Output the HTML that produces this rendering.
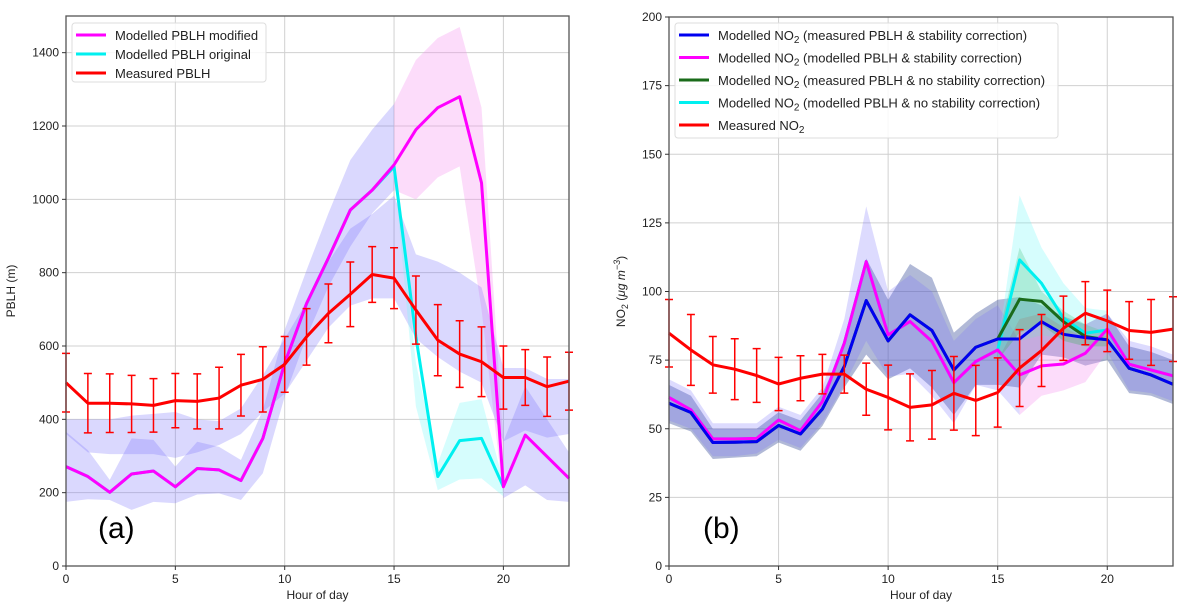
<!DOCTYPE html>
<html><head><meta charset="utf-8"><style>
body{margin:0;background:#fff;}
svg{display:block;font-family:"Liberation Sans",sans-serif;}
</style></head><body>
<svg id="fig" width="1183" height="612" viewBox="0 0 1183 612"></svg>
<script>
// ---------- Panel (a) data ----------
const hours = [0,1,2,3,4,5,6,7,8,9,10,11,12,13,14,15,16,17,18,19,20,21,22,23];
const pblhTicks = [0,200,400,600,800,1000,1200,1400];
const hourTicks = [0,5,10,15,20];
const measPBLH = [500,444,444,442,438,451,449,458,493,509,550,625,689,741,795,785,698,616,578,557,514,514,489,504];
const measPBLHErr = [80,81,80,78,73,74,75,84,84,89,76,77,80,88,76,83,93,97,91,95,86,76,81,79];
const modPBLH = [271,244,201,251,259,216,266,262,233,348,553,716,840,971,1025,1094,1190,1250,1280,1045,216,357,298,239];
const origPBLH = [271,244,201,251,259,216,266,262,233,348,553,716,840,971,1025,1089,625,244,342,348,216,357,298,239];
const modUpper = [366,316,235,348,344,271,339,325,289,425,644,807,962,1107,1190,1260,1380,1440,1470,1250,340,490,400,310];
const modLower = [175,182,180,153,175,171,195,198,180,253,462,625,762,871,962,1025,1000,1060,1090,700,185,220,180,175];
const bandBUpper = [400,400,400,410,415,420,400,395,430,520,620,720,830,920,960,1010,850,830,800,760,540,540,510,510];
const bandBLower = [360,310,305,305,305,295,310,330,360,420,470,560,650,710,730,730,620,570,530,500,340,370,350,360];
const origUpper = [1090,553,280,445,455,230];
const origLower = [1080,435,207,236,239,190];
// ---------- Panel (b) data ----------
const no2Ticks = [0,25,50,75,100,125,150,175,200];
const measNO2 = [84.8,78.7,73.3,71.7,69.4,66.3,68.4,69.9,69.9,64.4,61.4,57.8,58.7,62.9,60.3,63.2,72.1,78.5,86.6,92.1,89.3,85.8,85.1,86.3];
const measNO2Err = [12.3,12.9,10.3,11.1,9.8,9.7,8.2,7.2,6.9,9.5,11.8,12.2,12.5,13.4,12.8,12.6,14,13.1,11.7,11.5,11.2,10.5,12,11.8];
const no2MeasStab = [59.3,55.9,45,45.1,45.3,51.2,48.1,57.2,72.7,96.7,82,91.5,85.8,71.4,79.7,82.7,82.7,89,84.4,83.2,82.4,72,69.6,66.2];
const no2ModStab = [61.4,56.9,46.3,46.3,46.5,53.2,49.3,59.9,81.2,110.9,84.2,89.1,81.8,66.8,74.5,78.7,69.6,72.9,73.6,77.5,86.3,73.5,71.4,69.3];
const no2MeasNoStab = [59.3,55.9,45,45.1,45.3,51.2,48.1,57.2,72.7,96.7,82,91.5,85.8,71.4,79.7,82.7,97.2,96.4,89,83.6,82.4,72,69.6,66.2];
const no2ModNoStab = [61.4,56.9,46.3,46.3,46.5,53.2,49.3,59.9,81.2,110.9,84.2,89.1,81.8,66.8,74.5,78.7,111.5,103,90.3,84.8,86,73.5,71.4,69.3];
const blueUpper = [66,62,50,50,50,56,53,63,80,112,97,110,105,85,92,97,98,95,91,88,92,80,78,75];
const blueLower = [52,49,39,39.5,40,45,42,51,65,77,68,72,65,55,66,66,65,77,76,73,75,63,62,59];
const purpUpper = [68,64,52,52,52,58,55,65,90,131,100,106,100,82,90,95,82,84,83,88,92,82,80,77];
const purpLower = [53,50,40,40,41,46,43,52,66,82,69,70,62,52,66,64,55,62,64,67,78,64,63,60];
const greenUpper = [83,116,100,93,88,85];
const greenLower = [75,85,88,82,80,80];
const cyanUpper = [80,135,116,103,94,93];
const cyanLower = [75,90,92,87,83,84];

const NS='http://www.w3.org/2000/svg';
const svg=document.getElementById('fig');
function mk(tag,attrs,parent){const e=document.createElementNS(NS,tag);for(const k in attrs)e.setAttribute(k,attrs[k]);(parent||svg).appendChild(e);return e;}

function makeAxes(x0,x1,y0,y1,ymax){
  return {x:h=>x0+(x1-x0)*h/23, y:v=>y0-(y0-y1)*v/ymax, x0,x1,y0,y1};
}
function band(ax,g,xs,up,lo,fill,name){
  let d='';xs.forEach((h,i)=>{d+=(i?'L':'M')+ax.x(h)+','+ax.y(up[i]);});
  for(let i=xs.length-1;i>=0;i--)d+='L'+ax.x(xs[i])+','+ax.y(lo[i]);
  const p=mk('path',{d:d+'Z',fill:fill,stroke:'none'},g);
  
  
}
function line(ax,g,xs,vals,color,w,name){
  const p=mk('polyline',{points:xs.map((h,i)=>ax.x(h)+','+ax.y(vals[i])).join(' '),fill:'none',stroke:color,'stroke-width':w,'stroke-linejoin':'round'},g);
  
  
}
function errbars(ax,g,vals,err){
  hours.forEach((h,i)=>{
    const x=ax.x(h),yt=ax.y(vals[i]+err[i]),yb=ax.y(vals[i]-err[i]);
    const e=mk('path',{d:`M${x},${yt}V${yb}M${x-4},${yt}H${x+4}M${x-4},${yb}H${x+4}`,stroke:'#f00','stroke-width':1.5,fill:'none'},g);
    
    
  });
}
function frame(ax,g,yticks,ymax,ylabel,panelLbl,lblx){
  hourTicks.forEach(t=>{mk('line',{x1:ax.x(t),x2:ax.x(t),y1:ax.y1,y2:ax.y0,stroke:'#d0d0d0','stroke-width':1},g);});
  yticks.forEach(t=>{mk('line',{x1:ax.x0,x2:ax.x1,y1:ax.y(t),y2:ax.y(t),stroke:'#d0d0d0','stroke-width':1},g);});
}
function axesDecor(ax,g,yticks,ylabel,ylx,panelLbl,plx){
  const r=mk('rect',{x:ax.x0,y:ax.y1,width:ax.x1-ax.x0,height:ax.y0-ax.y1,fill:'none',stroke:'#555','stroke-width':1.3},g);
  
  hourTicks.forEach(t=>{
    mk('line',{x1:ax.x(t),x2:ax.x(t),y1:ax.y0,y2:ax.y0+4,stroke:'#333'},g);
    const tx=mk('text',{x:ax.x(t),y:ax.y0+17,'text-anchor':'middle','font-size':12,fill:'#222'},g);tx.textContent=t;
    
  });
  yticks.forEach(t=>{
    mk('line',{x1:ax.x0-4,x2:ax.x0,y1:ax.y(t),y2:ax.y(t),stroke:'#333'},g);
    const tx=mk('text',{x:ax.x0-7,y:ax.y(t)+4,'text-anchor':'end','font-size':12,fill:'#222'},g);tx.textContent=t;
    
  });
  const xl=mk('text',{x:(ax.x0+ax.x1)/2,y:ax.y0+33,'text-anchor':'middle','font-size':12,fill:'#222'},g);xl.textContent='Hour of day';
  
  const yl=mk('text',{x:0,y:0,'text-anchor':'middle','font-size':12,fill:'#222',transform:`translate(${ylx},${(ax.y0+ax.y1)/2}) rotate(-90)`},g);yl.innerHTML=ylabel;
  
  const pl=mk('text',{x:plx,y:538,'font-size':30,fill:'#000'},g);pl.textContent=panelLbl;
  
}
function legend(g,x,y,w,h,entries,dy){
  const r=mk('rect',{x:x,y:y,width:w,height:h,rx:3,fill:'rgba(255,255,255,0.85)',stroke:'#ddd'},g);
  
  entries.forEach((e,i)=>{
    const cy=y+12+i*dy;
    const gg=mk('g',{},g);
    
    mk('line',{x1:x+4,x2:x+34,y1:cy,y2:cy,stroke:e[1],'stroke-width':3},gg);
    const t=mk('text',{x:x+43,y:cy+5,'font-size':13,fill:'#222'},gg);t.innerHTML=e[0];
  });
}

// ---------- Panel (a) ----------
const ga=mk('g',{});
const A=makeAxes(66,569,566,16,1500);
frame(A,ga,pblhTicks);
const purple='rgba(120,110,250,0.27)';
band(A,ga,hours.slice(0,16),modUpper.slice(0,16),modLower.slice(0,16),purple,'modified-band');
band(A,ga,hours.slice(15,21),modUpper.slice(15,21),modLower.slice(15,21),'rgba(245,140,240,0.3)','modified-band-pink');
band(A,ga,hours.slice(20),modUpper.slice(20),modLower.slice(20),purple,'modified-band-late');
band(A,ga,hours,bandBUpper,bandBLower,purple,'original-band');
band(A,ga,hours.slice(15,21),origUpper,origLower,'rgba(120,250,250,0.3)','original-band-cyan');
line(A,ga,hours.slice(0,21),origPBLH.slice(0,21),'#00f0f0',3,'original-pblh-line');
line(A,ga,hours,modPBLH,'#f0f',3,'modified-pblh-line');
errbars(A,ga,measPBLH,measPBLHErr);
line(A,ga,hours,measPBLH,'#f00',3,'measured-pblh-line');
axesDecor(A,ga,pblhTicks,'PBLH (m)',15,'(a)',98);
legend(ga,72,23,194,59,[['Modelled PBLH modified','#f0f'],['Modelled PBLH original','#00f0f0'],['Measured PBLH','#f00']],19);

// ---------- Panel (b) ----------
const gb=mk('g',{});
const B=makeAxes(669,1173,566,17,200);
frame(B,gb,no2Ticks);
band(B,gb,hours,blueUpper,blueLower,'rgba(50,70,150,0.38)','measured-stab-band');
band(B,gb,hours.slice(0,17),purpUpper.slice(0,17),purpLower.slice(0,17),'rgba(120,110,250,0.25)','modelled-stab-band');
band(B,gb,hours.slice(16,21),purpUpper.slice(16,21),purpLower.slice(16,21),'rgba(245,140,240,0.3)','modelled-stab-band-pink');
band(B,gb,hours.slice(20),purpUpper.slice(20),purpLower.slice(20),'rgba(120,110,250,0.25)','modelled-stab-band-late');
band(B,gb,hours.slice(15,21),greenUpper,greenLower,'rgba(60,180,90,0.3)','measured-nostab-band');
band(B,gb,hours.slice(15,21),cyanUpper,cyanLower,'rgba(120,250,250,0.3)','modelled-nostab-band');
line(B,gb,hours,no2ModNoStab,'#00f0f0',3,'no2-modelled-nostab-line');
line(B,gb,hours,no2MeasNoStab,'#1a6b1a',3,'no2-measured-nostab-line');
line(B,gb,hours,no2ModStab,'#f0f',3,'no2-modelled-stab-line');
line(B,gb,hours,no2MeasStab,'#0000f0',3,'no2-measured-stab-line');
errbars(B,gb,measNO2,measNO2Err);
line(B,gb,hours,measNO2,'#f00',3,'measured-no2-line');
axesDecor(B,gb,no2Ticks,'NO<tspan font-size="9" dy="3">2</tspan><tspan dy="-3"> (</tspan><tspan font-style="italic">μg m</tspan><tspan font-style="italic" font-size="9" dy="-5">−3</tspan><tspan dy="5">)</tspan>',625,'(b)',703);
const sub='NO<tspan font-size="10" dy="3">2</tspan><tspan dy="-3">';
legend(gb,675,23,383,115,[
 ['Modelled '+sub+' (measured PBLH &amp; stability correction)</tspan>','#0000f0'],
 ['Modelled '+sub+' (modelled PBLH &amp; stability correction)</tspan>','#f0f'],
 ['Modelled '+sub+' (measured PBLH &amp; no stability correction)</tspan>','#1a6b1a'],
 ['Modelled '+sub+' (modelled PBLH &amp; no stability correction)</tspan>','#00f0f0'],
 ['Measured '+sub+'</tspan>','#f00']],22.5);
</script>
</body></html>
